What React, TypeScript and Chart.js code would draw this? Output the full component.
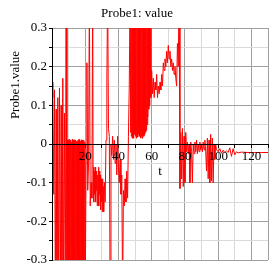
import { useEffect, useRef } from "react";
import { Chart, registerables } from "chart.js";

Chart.register(...registerables);

const titleText = "Probe1: value";
const yAxisLabel = "Probe1.value";
const xAxisLabel = "t";
const xLabelledTicks = [20, 40, 60, 80, 100, 120];
const yLabelledTicks = [-0.3, -0.2, -0.1, 0, 0.1, 0.2, 0.3];

// [t, value] samples, segment by segment
const openingSpikes: [number, number][] = [
  [0, 0.16], [0.5, 0.12], [1, -0.13], [1.5, 0.14], [2, -0.4], [2.5, 0.09], [3, -0.4], [3.5, 0.12],
  [4, -0.4], [4.5, 0.145], [5, -0.4], [5.5, 0.1], [6, -0.4], [6.5, 0.17], [7, -0.4], [7.5, 0.08],
  [8, -0.4], [8.5, 0.4], [9, -0.4],
];
const negativeBurst: [number, number][] = [
  [9.25, 0.01], [9.5, -0.4], [9.75, 0.008], [10, -0.4], [10.25, 0.012], [10.5, -0.4], [10.75, 0.006],
  [11, -0.4], [11.25, 0.01], [11.5, -0.4], [11.75, 0.005], [12, -0.4], [12.25, 0.012], [12.5, -0.4],
  [12.75, 0.009], [13, -0.4], [13.25, 0.008], [13.5, -0.4], [13.75, 0.011], [14, -0.4], [14.25, 0.01],
  [14.5, -0.4], [14.75, 0.007], [15, -0.4], [15.25, 0.006], [15.5, -0.4], [15.75, 0.01], [16, -0.4],
  [16.25, 0.012], [16.5, -0.4], [16.75, 0.008], [17, -0.4], [17.25, 0.008], [17.5, -0.4],
  [17.75, 0.011], [18, -0.4], [18.25, 0.01], [18.5, -0.4], [18.75, 0.007], [19, -0.4], [19.25, 0.01],
  [19.5, -0.4], [19.75, 0.005], [20, -0.4],
];
const middleSwing: [number, number][] = [
  [20.5, -0.05], [21, 0.21], [21.5, -0.12], [22, -0.05], [22.5, 0.4], [23, -0.16], [23.5, -0.1],
  [24, -0.14], [24.5, 0.4], [24.75, -0.12], [25, -0.06], [25.25, -0.15], [25.5, -0.07], [25.75, -0.13],
  [26, -0.06], [26.25, -0.15], [26.5, -0.08], [26.75, -0.12], [27, -0.07], [27.25, -0.16],
  [27.5, -0.08], [27.75, -0.14], [28, -0.06], [28.25, -0.16], [28.5, -0.07], [28.75, -0.13],
  [29, -0.08], [29.25, -0.17], [29.5, -0.09], [29.75, -0.15], [30, -0.1], [30.25, -0.175],
  [30.5, -0.09], [30.75, -0.17], [31, -0.11], [31.25, -0.175], [31.5, -0.1], [32, -0.15],
  [32.5, 0.01], [33, 0.16], [33.5, 0.4], [34, 0.04], [34.5, 0.02], [35, -0.4], [35.5, 0],
  [36, -0.03], [36.5, 0.02], [37, -0.04], [37.5, 0.01], [38, -0.05], [38.5, 0], [39, -0.08],
  [39.5, 0.02], [40, -0.06], [40.5, -0.1], [41, -0.04], [41.5, -0.13], [42, -0.08], [42.5, -0.4],
  [43, -0.12], [43.5, -0.16], [44, -0.09], [44.5, -0.15], [45, -0.07], [45.5, -0.14], [46, 0.02],
  [46.5, 0.15], [47, 0.4],
];
const positiveBurst: [number, number][] = [
  [47.25, 0.03], [47.5, 0.4], [47.75, 0.02], [48, 0.4], [48.25, 0.015], [48.5, 0.4], [48.75, 0.02],
  [49, 0.4], [49.25, 0.015], [49.5, 0.4], [49.75, 0.025], [50, 0.4], [50.25, 0.02], [50.5, 0.4],
  [50.75, 0.015], [51, 0.4], [51.25, 0.02], [51.5, 0.4], [51.75, 0.018], [52, 0.4], [52.25, 0.025],
  [52.5, 0.4], [52.75, 0.02], [53, 0.4], [53.25, 0.015], [53.5, 0.4], [53.75, 0.02], [54, 0.4],
  [54.25, 0.015], [54.5, 0.4], [54.75, 0.022], [55, 0.4], [55.25, 0.02], [55.5, 0.4], [55.75, 0.025],
  [56, 0.4], [56.25, 0.03], [56.5, 0.4], [56.75, 0.035], [57, 0.4], [57.25, 0.05], [57.5, 0.4],
  [57.75, 0.07], [58, 0.4], [58.25, 0.09], [58.5, 0.35], [58.75, 0.1], [59, 0.3],
];
const plateau: [number, number][] = [
  [59.5, 0.12], [60, 0.19], [60.5, 0.13], [61, 0.17], [61.5, 0.12], [62, 0.16], [62.5, 0.14],
  [63, 0.18], [63.5, 0.12], [64, 0.15], [64.5, 0.13], [65, 0.16], [65.5, 0.14], [66, 0.18],
  [66.5, 0.15], [67, 0.21], [67.5, 0.19], [68, 0.22], [68.5, 0.2], [69, 0.24], [69.5, 0.21],
  [70, 0.255], [70.5, 0.22], [71, 0.24], [71.5, 0.2], [72, 0.22], [72.5, 0.19], [73, 0.21],
  [73.5, 0.18], [74, 0.2], [74.5, 0.17], [75, 0.15], [75.5, 0.26], [76, 0.2], [76.5, 0.4], [77, -0.115],
];
const decay: [number, number][] = [
  [77.5, 0.03], [78, -0.09], [78.5, 0.04], [79, -0.11], [79.5, 0.02], [80, -0.1], [80.5, 0.03],
  [81, -0.02], [81.5, 0.005], [82, -0.025], [82.5, 0], [83, -0.1], [83.5, 0.005], [84, -0.02],
  [84.5, -0.1], [85, 0], [85.5, -0.025], [86, 0.005], [86.5, -0.02], [87, 0.01], [87.5, -0.025],
  [88, 0], [88.5, -0.02], [89, 0.005], [89.5, -0.015], [90, 0], [90.5, -0.02], [91, 0.005],
  [91.5, -0.015], [92, 0.01], [92.5, -0.02], [93, -0.07], [93.5, 0.015], [94, -0.09], [94.5, 0.01],
  [95, -0.1], [95.5, 0.025], [96, -0.095], [96.5, 0.015], [97, -0.1], [97.5, 0], [98, -0.04], [98.5, 0],
];
const tail: [number, number][] = [
  [99, -0.015], [100, -0.02], [101, -0.012], [102, -0.024], [103, -0.016], [104, -0.022], [105, -0.018],
  [106, -0.022], [107, -0.01], [108, -0.032], [109, -0.012], [110, -0.028], [111, -0.02], [112, -0.023],
  [114, -0.021], [118, -0.022], [122, -0.022], [126, -0.022], [130, -0.022],
];

const MAJOR_GRID = "rgb(160,160,160)";
const MINOR_GRID = "rgb(218,218,218)";
const FONT_FAMILY = '"Liberation Serif", "Times New Roman", serif';

const textPlugin = {
  id: "maplesText",
  afterDraw(chart: any) {
    const { ctx, chartArea, scales } = chart;
    ctx.save();
    ctx.fillStyle = "#000";
    ctx.font = `13px ${FONT_FAMILY}`;
    ctx.textAlign = "center";
    ctx.textBaseline = "alphabetic";
    ctx.fillText(titleText, 137, 17);
    const zeroY = scales.y.getPixelForValue(0);
    ctx.textBaseline = "middle";
    ctx.fillText(xAxisLabel, (chartArea.left + chartArea.right) / 2, zeroY + 28);
    ctx.translate(19, 85);
    ctx.rotate(-Math.PI / 2);
    ctx.textBaseline = "alphabetic";
    ctx.fillText(yAxisLabel, 0, 0);
    ctx.restore();
  },
};

export default function App() {
  const ref = useRef<HTMLCanvasElement>(null);
  useEffect(() => {
    const canvas = ref.current;
    if (!canvas) return;
    const points = [
      ...openingSpikes, ...negativeBurst, ...middleSwing, ...positiveBurst,
      ...plateau, ...decay, ...tail,
    ].map(([x, y]) => ({ x, y }));
    const chart = new Chart(canvas, {
      type: "line",
      data: {
        datasets: [
          {
            data: points,
            borderColor: "#ff0000",
            borderWidth: 1,
            pointRadius: 0,
            tension: 0,
            fill: false,
          },
        ],
      },
      options: {
        animation: false,
        responsive: false,
        devicePixelRatio: 1,
        layout: { padding: { top: 28, right: 5, bottom: 13, left: 0 } },
        plugins: { legend: { display: false }, tooltip: { enabled: false }, title: { display: false } },
        scales: {
          x: {
            type: "linear",
            min: 0,
            max: 130,
            position: { y: 0 } as any,
            ticks: {
              stepSize: 10,
              autoSkip: false,
              maxRotation: 0,
              color: "#000",
              padding: 2,
              z: 1,
              font: { family: FONT_FAMILY, size: 13 },
              callback: (v: any) => {
                const r = Math.round(Number(v));
                return xLabelledTicks.includes(r) ? String(r) : "";
              },
            },
            grid: {
              color: (c: any) => {
                const v = Math.round(c.tick?.value ?? 0);
                if (v === 0) return "#000";
                return v % 20 === 0 || v === 130 ? MAJOR_GRID : MINOR_GRID;
              },
              lineWidth: 1,
              tickColor: "#000",
              tickLength: 3,
            },
            border: { color: "#000", width: 1, z: 1 },
          },
          y: {
            type: "linear",
            min: -0.3,
            max: 0.3,
            position: "left",
            afterFit: (s: any) => {
              s.width = 52;
            },
            ticks: {
              stepSize: 0.05,
              autoSkip: false,
              color: "#000",
              padding: 2,
              z: 1,
              font: { family: FONT_FAMILY, size: 13 },
              callback: (v: any) => {
                const k = Math.round(Number(v) * 100);
                const match = yLabelledTicks.find((t) => Math.round(t * 100) === k);
                if (match === undefined) return "";
                return k === 0 ? "0" : match.toFixed(1);
              },
            },
            grid: {
              color: (c: any) => {
                const k = Math.round((c.tick?.value ?? 0) * 100);
                if (k === 0) return "#000";
                return k % 10 === 0 ? MAJOR_GRID : MINOR_GRID;
              },
              lineWidth: 1,
              tickColor: "#000",
              tickLength: 3,
            },
            border: { color: "#000", width: 1, z: 1 },
          },
        },
      },
      plugins: [textPlugin],
    });
    return () => chart.destroy();
  }, []);
  return (
    <div style={{ position: "fixed", left: 0, top: 0, width: 273, height: 273, background: "#fff" }}>
      <canvas ref={ref} width={273} height={273} style={{ display: "block", width: 273, height: 273 }} />
    </div>
  );
}
